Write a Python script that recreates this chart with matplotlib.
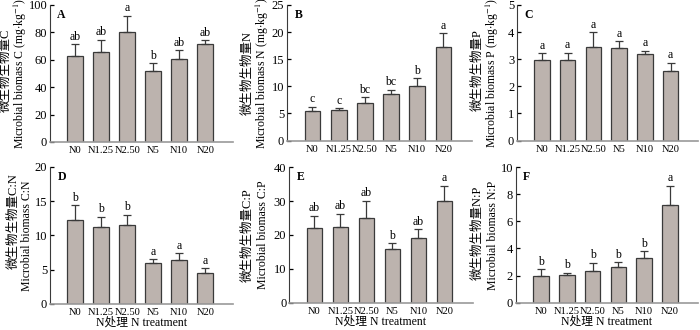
import numpy as np
import matplotlib.pyplot as plt

plt.rcParams['font.family'] = ['Liberation Serif', 'Noto Sans CJK SC']
plt.rcParams['mathtext.fontset'] = 'stix'

treatments = ['N0', 'N1.25', 'N2.50', 'N5', 'N10', 'N20']

# means, standard errors (upper bar length) and significance letters
mbc = [62.7, 65.4, 80.0, 52.0, 60.2, 71.2]
mbc_err = [8.5, 9.0, 12.2, 5.3, 6.8, 2.9]
mbc_sig = ['ab', 'ab', 'a', 'b', 'ab', 'ab']

mbn = [5.47, 5.6, 6.9, 8.6, 10.07, 17.2]
mbn_err = [0.8, 0.36, 1.1, 0.7, 1.43, 2.6]
mbn_sig = ['c', 'c', 'bc', 'bc', 'b', 'a']

mbp = [2.96, 2.96, 3.45, 3.40, 3.18, 2.58]
mbp_err = [0.26, 0.28, 0.54, 0.26, 0.12, 0.29]
mbp_sig = ['a', 'a', 'a', 'a', 'a', 'a']

cn = [12.24, 11.3, 11.56, 5.95, 6.44, 4.5]
cn_err = [2.16, 1.4, 1.42, 0.55, 0.96, 0.7]
cn_sig = ['b', 'b', 'b', 'a', 'a', 'a']

cp = [22.2, 22.5, 24.9, 15.8, 19.2, 29.9]
cp_err = [3.5, 3.7, 5.2, 1.7, 2.5, 4.6]
cp_sig = ['ab', 'ab', 'ab', 'b', 'ab', 'a']

np_ratio = [2.0, 2.02, 2.36, 2.66, 3.28, 7.19]
np_err = [0.46, 0.2, 0.6, 0.32, 0.51, 1.43]
np_sig = ['b', 'b', 'b', 'b', 'b', 'a']

panels = [
    ('A', mbc, mbc_err, mbc_sig, 100, 20, '微生物生物量C',
     'Microbial biomass C (mg$\\cdot$kg$^{-1}$)'),
    ('B', mbn, mbn_err, mbn_sig, 25, 5, '微生物生物量N',
     'Microbial biomass N (mg$\\cdot$kg$^{-1}$)'),
    ('C', mbp, mbp_err, mbp_sig, 5, 1, '微生物生物量P',
     'Microbial biomass P (mg$\\cdot$kg$^{-1}$)'),
    ('D', cn, cn_err, cn_sig, 20, 5, '微生物生物量C:N', 'Microbial biomass C:N'),
    ('E', cp, cp_err, cp_sig, 40, 10, '微生物生物量C:P', 'Microbial biomass C:P'),
    ('F', np_ratio, np_err, np_sig, 10, 2, '微生物生物量N:P', 'Microbial biomass N:P'),
]

# layout: axes rects, label offsets (pixels left of the spine), Chinese vertical shift
rects = [[0.0714, 0.570, 0.262, 0.415], [0.410, 0.574, 0.264, 0.411],
         [0.7386, 0.574, 0.259, 0.411], [0.0714, 0.079, 0.262, 0.415],
         [0.413, 0.083, 0.262, 0.410], [0.737, 0.083, 0.260, 0.410]]
en_dx = [30, 25, 25, 23, 26, 23]
cn_dx = [44, 39, 39, 36, 41, 38]
cn_dy = [3, 0, 3, 14, 0, 2]

fig = plt.figure(figsize=(7, 3.3), dpi=100)
x = np.arange(len(treatments))

for i, (tag, vals, errs, sig, ymax, step, cn_lab, en_lab) in enumerate(panels):
    ax = fig.add_axes(rects[i])
    ax.bar(x, vals, width=0.6, color='#bcb3ae', edgecolor='#3a3a3a', linewidth=0.9)
    ax.errorbar(x, vals, yerr=[np.zeros(len(vals)), errs], fmt='none',
                ecolor='#3a3a3a', elinewidth=0.9, capsize=3, capthick=0.9)
    for xi, v, e, s in zip(x, vals, errs, sig):
        ax.text(xi, v + e + ymax * 0.012, s, ha='center', va='bottom', fontsize=8.5)
    ax.set_xlim(-0.97, 6.08)
    ax.set_ylim(0, ymax)
    ax.set_yticks(np.arange(0, ymax + step / 2, step))
    ax.set_xticks(x)
    ax.set_xticklabels(treatments)
    ax.tick_params(axis='y', direction='in', length=3, width=0.9, labelsize=9, pad=2)
    ax.tick_params(axis='x', length=0, labelsize=7.6, pad=3)
    ax.spines['top'].set_visible(False)
    ax.spines['right'].set_visible(False)
    ax.spines['left'].set_color('#3a3a3a')
    ax.spines['bottom'].set_color('#999999')
    ax.spines['bottom'].set_linewidth(1.2)
    # two-line y label: Chinese outside, English inside
    ax.annotate(en_lab, xy=(0, 0.5), xycoords='axes fraction',
                xytext=(-en_dx[i], 0), textcoords='offset pixels',
                rotation=90, fontsize=8.5, ha='center', va='center')
    ax.annotate(cn_lab, xy=(0, 0.5), xycoords='axes fraction',
                xytext=(-cn_dx[i], cn_dy[i]), textcoords='offset pixels',
                rotation=90, fontsize=9, ha='center', va='center')
    ax.text(0.04, 0.97, tag, transform=ax.transAxes, fontsize=8.5,
            fontweight='bold', ha='left', va='top')
    if i >= 3:
        ax.set_xlabel('N处理 N treatment', fontsize=8.5, labelpad=0)

fig.savefig('out.png', dpi=100)
